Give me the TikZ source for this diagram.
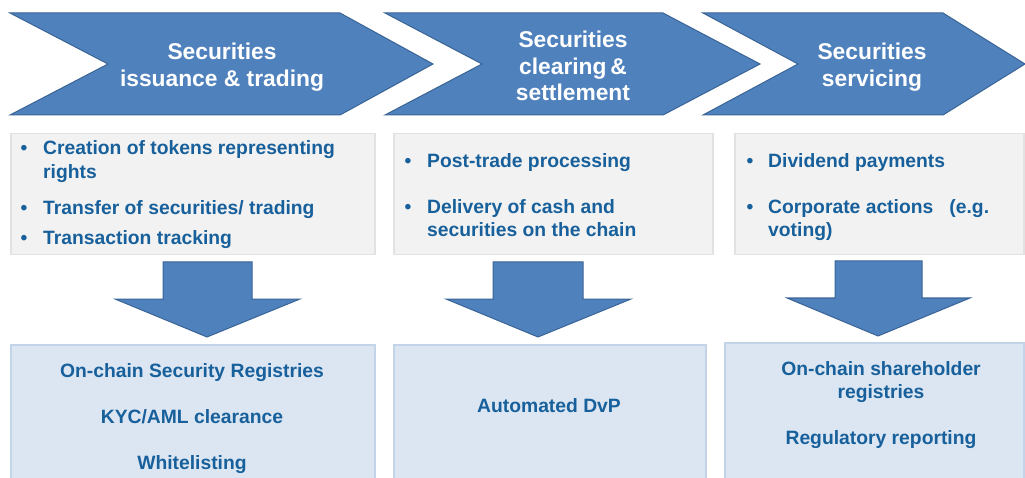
\documentclass[tikz,border=0pt]{standalone}
\usepackage{fontspec}
\setmainfont{Liberation Sans}
\usepackage{tikz}
\usetikzlibrary{positioning}

\definecolor{chevblue}{HTML}{4F81BD}
\definecolor{chevline}{HTML}{3A6496}
\definecolor{greyfill}{HTML}{F2F2F2}
\definecolor{greyline}{HTML}{E2E2E2}
\definecolor{paleblue}{HTML}{DCE6F2}
\definecolor{paleline}{HTML}{C3D4E8}
\definecolor{textblue}{HTML}{17609B}

\begin{document}
\begin{tikzpicture}[x=1pt, y=-1pt,
    chevron/.style={fill=chevblue, draw=chevline, line width=1pt, line join=miter},
    downarrow/.style={fill=chevblue, draw=chevline, line width=1pt},
    title/.style={text=white, font=\fontsize{22.8}{26.5}\selectfont\bfseries, align=center, inner sep=0pt},
    greybox/.style={fill=greyfill, draw=greyline, line width=1.5pt, anchor=north west, inner sep=0pt},
    bluebox/.style={fill=paleblue, draw=paleline, line width=1.5pt, anchor=north west, inner sep=0pt, minimum height=140},
    item/.style={text=textblue, font=\fontsize{19.3}{23.5}\selectfont\bfseries, anchor=mid west, inner sep=0pt},
    dot/.style={text=textblue, font=\fontsize{19.3}{23.5}\selectfont\bfseries, anchor=mid, inner sep=0pt},
    result/.style={text=textblue, font=\fontsize{19.3}{23.5}\selectfont\bfseries, anchor=mid, inner sep=0pt}
]
\useasboundingbox (0,0) rectangle (1025,478);
\clip (0,0) rectangle (1025,478);

% Process chevrons
\draw[chevron] (10,13) -- (340,13) -- (433,64) -- (340,115) -- (10,115) -- (108,64) -- cycle;
\draw[chevron] (385,13) -- (663,13) -- (760,64) -- (663,115) -- (385,115) -- (482,64) -- cycle;
\draw[chevron] (703,13) -- (943,13) -- (1025,64) -- (943,115) -- (703,115) -- (798,64) -- cycle;

\node[title] (issue) at (222,67) {Securities\\issuance \& trading};
\node[title] (clear) at (573,66) {Securities\\clearing\,\&\\settlement};
\node[title] (serv) at (872,67) {Securities\\servicing};

% Activities
\node[greybox, minimum width=364, minimum height=121] (act1) at (10,133) {};
\node[greybox, minimum width=319, minimum height=121] (act2) at (393,133) {};
\node[greybox, minimum width=289, minimum height=121] (act3) at (734,133) {};

\foreach \x/\y in {24/152, 24/212, 24/242, 408/165, 408/211, 750/165, 750/211}
    \node[dot] at (\x,\y) {•};

\node[item] (a1) at (43,152) {Creation of tokens representing};
\node[item] (a2) at (43,176) {rights};
\node[item] (a3) at (43,212) {Transfer of securities/ trading};
\node[item] (a4) at (43,242) {Transaction tracking};

\node[item] (b1) at (427,165) {Post-trade processing};
\node[item] (b2) at (427,211) {Delivery of cash and};
\node[item] (b3) at (427,234) {securities on the chain};

\node[item] (c1) at (768,165) {Dividend payments};
\node[item] (c2) at (768,211) {Corporate actions \ \ (e.g.};
\node[item] (c3) at (768,234) {voting)};

% Block arrows down
\draw[downarrow] (163,262) -- (252,262) -- (252,299) -- (300,299) -- (207,337) -- (115,299) -- (163,299) -- cycle;
\draw[downarrow] (493,262) -- (583,262) -- (583,299) -- (631,299) -- (538,337) -- (446,299) -- (493,299) -- cycle;
\draw[downarrow] (835,261) -- (922,261) -- (922,298) -- (970,298) -- (878,336) -- (787,298) -- (835,298) -- cycle;

% Results
\node[bluebox, minimum width=364] (res1) at (10,344) {};
\node[bluebox, minimum width=312] (res2) at (393,344) {};
\node[bluebox, minimum width=299] (res3) at (724,342) {};

\node[result] (r1) at (192,375) {On-chain Security Registries};
\node[result] (r2) at (192,421) {KYC/AML clearance};
\node[result] (r3) at (192,467) {Whitelisting};

\node[result] (r4) at (549,410) {Automated DvP};

\node[result] (r5) at (881,373) {On-chain shareholder};
\node[result] (r6) at (881,396) {registries};
\node[result] (r7) at (881,442) {Regulatory reporting};

\end{tikzpicture}
\end{document}
